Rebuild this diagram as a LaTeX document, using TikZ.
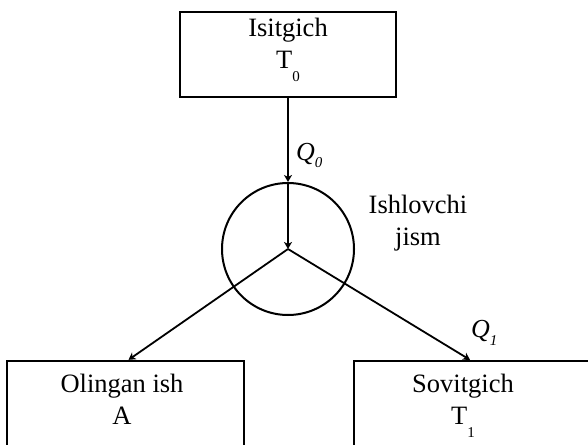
\documentclass[tikz,border=0pt]{standalone}
\usepackage{fontspec}
\setmainfont{Liberation Serif}
\usetikzlibrary{arrows.meta}
\newcommand\lowsub[2]{\raisebox{#1}{\fontsize{15}{15}\selectfont #2}}
\begin{document}
\begin{tikzpicture}[x=1pt,y=-1pt,
  box/.style={draw, line width=2.3pt, inner sep=0pt},
  txt/.style={font=\fontsize{26.5}{32}\selectfont, inner sep=0pt, anchor=base},
  lbl/.style={font=\fontsize{26}{32}\selectfont\itshape, inner sep=0pt, anchor=base west},
  arr/.style={line width=1.8pt, -{Stealth[length=7pt,width=8pt,inset=2pt]}}]
\clip (0,0) rectangle (588,444);
% boxes
\node[box, minimum width=216pt, minimum height=85pt] (hot) at (288,54.5) {};
\node[box, minimum width=237pt, minimum height=110pt] (work) at (125.5,416) {};
\node[box, minimum width=236pt, minimum height=110pt] (cold) at (472,416) {};
\node[circle, draw, line width=2pt, minimum size=132pt, inner sep=0pt] (body) at (288,249) {};
% texts
\node[txt] (hottext) at (288,37) {\begin{tabular}[t]{@{}c@{}}Isitgich\\T\lowsub{-13pt}{0}\end{tabular}};
\node[txt] (worktext) at (122,392) {\begin{tabular}[t]{@{}c@{}}Olingan ish\\A\end{tabular}};
\node[txt] (coldtext) at (463,392) {\begin{tabular}[t]{@{}c@{}}Sovitgich\\T\lowsub{-13pt}{1}\end{tabular}};
\node[txt] (bodytext) at (418,213) {\begin{tabular}[t]{@{}c@{}}Ishlovchi\\jism\end{tabular}};
\node[lbl] (q0) at (296,160) {Q\lowsub{-7pt}{\itshape 0}};
\node[lbl] (q1) at (471,337) {Q\lowsub{-8pt}{\itshape 1}};
% connectors
\draw[arr] (hot.south) -- (body.north);
\draw[arr] (body.north) -- (body.center);
\draw[arr] (body.center) -- ([xshift=3pt]work.north);
\draw[arr] (body.center) -- ([xshift=-2pt]cold.north);
\end{tikzpicture}
\end{document}
